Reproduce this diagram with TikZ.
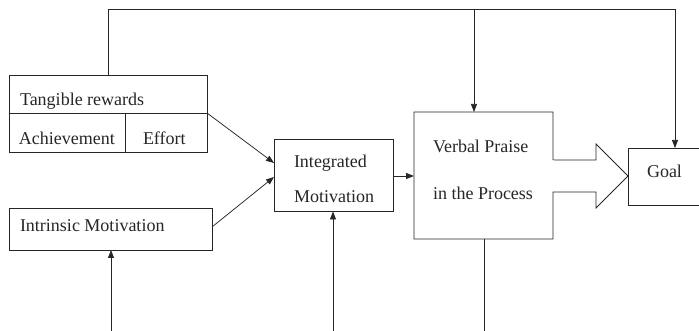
\documentclass[tikz,border=0pt]{standalone}
\usepackage{fontspec}
\setmainfont{Liberation Serif}
\usetikzlibrary{arrows.meta,calc}
\begin{document}
\begin{tikzpicture}[x=1pt,y=-1pt, line width=0.75pt, draw=black!85,
  box/.style={draw=black!85, inner sep=0pt, outer sep=0pt},
  hidden/.style={inner sep=0pt, outer sep=0pt},
  lbl/.style={anchor=base west, inner sep=0pt, outer sep=0pt, text=black!85, font=\fontsize{18}{20}\selectfont},
  arr/.style={-{Triangle[length=8pt,width=6pt]}}]
\useasboundingbox (0,0) rectangle (699,331);

% boxes
\node[box, minimum width=198pt, minimum height=77pt] (tang) at (108,113.5) {};
\node[box, minimum width=203pt, minimum height=42pt] (intr) at (110.5,229) {};
\node[box, minimum width=119pt, minimum height=72pt] (integ) at (333.5,175.5) {};
\node[hidden, minimum width=139pt, minimum height=127pt] (verb) at (483.5,175.5) {};
\node[box, minimum width=95pt, minimum height=57pt] (goal) at (675.5,176.5) {};

% tangible dividers
\draw (tang.west |- 0,113) -- (tang.east |- 0,113);
\draw (125,113) -- (tang.south -| 125,0);

% labels
\node[lbl] (t1) at (20,106) {Tangible rewards};
\node[lbl] (t2) at (19,145) {Achievement};
\node[lbl] (t3) at (143,145) {Effort};
\node[lbl] (t4) at (20,232) {Intrinsic Motivation};
\node[lbl] (t5) at (294,168) {Integrated};
\node[lbl] (t6) at (294,203) {Motivation};
\node[lbl] (t7) at (433,153) {Verbal Praise};
\node[lbl] (t8) at (433,200) {in the Process};
\node[lbl] (t9) at (647,178) {Goal};

% verbal box outline with the big arrow
\draw[line join=miter] (verb.east |- 0,160) -- (verb.north east) -- (verb.north west)
  -- (verb.south west) -- (verb.south east) -- (verb.east |- 0,192)
  -- (596,192) -- (596,208) -- (goal.west |- 0,176) -- (596,144) -- (596,160) -- cycle;
\fill[white] ($(verb.east |- 0,160)+(-0.1,0.5)$) rectangle ($(verb.east |- 0,192)+(0.5,-0.5)$);

% top connectors
\coordinate (topR) at (675,9.5);
\coordinate (topV) at (474,9.5);
\draw (tang.north) |- (topR);
\draw[arr] (topV) -- (verb.north -| topV);
\draw[arr] (topR) -- (goal.north -| topR);

% into integrated motivation
\draw[arr] (tang.east |- 0,113) -- (integ.west |- 0,163);
\draw[arr] (intr.east |- 0,227) -- (integ.west |- 0,177);
\draw[arr] (integ.east |- 0,176) -- (verb.west |- 0,176);

% bottom connectors
\coordinate (b1) at (111,331);
\coordinate (b2) at (333,331);
\coordinate (b3) at (484,331);
\draw[arr] (b1) -- (intr.south -| b1);
\draw[arr] (b2) -- (integ.south -| b2);
\draw (verb.south -| b3) -- (b3);
\end{tikzpicture}
\end{document}
